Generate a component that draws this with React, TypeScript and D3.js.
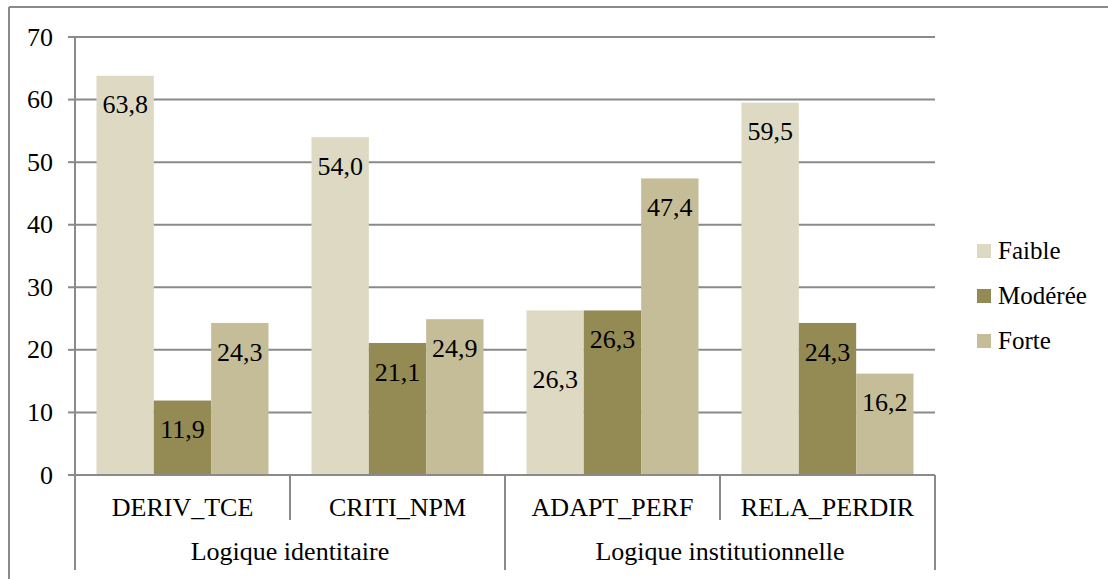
import React, { useEffect, useRef } from "react";
import * as d3 from "d3";

const categories = ["DERIV_TCE", "CRITI_NPM", "ADAPT_PERF", "RELA_PERDIR"];
const groups = [
  { label: "Logique identitaire", span: 2 },
  { label: "Logique institutionnelle", span: 2 },
];
const seriesNames = ["Faible", "Modérée", "Forte"];
const faible = [63.8, 54.0, 26.3, 59.5];
const moderee = [11.9, 21.1, 26.3, 24.3];
const forte = [24.3, 24.9, 47.4, 16.2];
const yTicks = [0, 10, 20, 30, 40, 50, 60, 70];

const seriesValues = [faible, moderee, forte];
const colors = ["#DDD9C3", "#948A54", "#C4BD97"];
// label extra vertical shift (px) for specific labels: [series][category]
const labelShift = [
  [0, 0, 40, 0],
  [0, 0, 0, 0],
  [0, 0, 0, 0],
];

const W = 1108;
const H = 579;
const left = 75;
const right = 935;
const top = 37;
const bottom = 475;
const fs = 26;
const gridColor = "#8a8a8a";
const FONT = '"Liberation Serif", "Times New Roman", serif';

function T(props: any) {
  const { children, anchor, size, ...rest } = props;
  return (
    <text {...rest} className="serif" textAnchor={anchor || "start"} fontSize={size || fs} fill="#000">
      {children}
    </text>
  );
}

export default function App() {
  const ref = useRef<SVGSVGElement>(null);
  useEffect(() => {
    if (!ref.current) return;
    d3.select(ref.current)
      .selectAll<SVGTextElement, unknown>("text")
      .each(function () {
        this.style.setProperty("font-family", FONT, "important");
      });
  }, []);

  const y = d3.scaleLinear().domain([0, 70]).range([bottom, top]);
  const x0 = d3.scaleBand<string>().domain(categories).range([left, right]).paddingInner(0).paddingOuter(0);
  const bw = x0.bandwidth();
  const inner = d3
    .scaleBand<string>()
    .domain(seriesNames)
    .range([bw * 0.1, bw * 0.9])
    .padding(0);

  return (
    <svg ref={ref} width={W} height={H} style={{ position: "absolute", left: 0, top: 0 }}>
      <style>{`text.serif { font-family: ${FONT} !important; }`}</style>
      <rect x={0} y={0} width={W} height={H} fill="#fff" />
      <line x1={9} y1={7} x2={W} y2={7} stroke={gridColor} strokeWidth={2} />
      <line x1={9} y1={7} x2={9} y2={H} stroke={gridColor} strokeWidth={2} />

      {yTicks.map((t) => (
        <g key={t}>
          {t > 0 && <line x1={left} x2={right} y1={y(t)} y2={y(t)} stroke={gridColor} strokeWidth={2} />}
          <line x1={68} x2={left} y1={y(t)} y2={y(t)} stroke={gridColor} strokeWidth={2} />
          <T x={53} y={y(t)} dy="0.33em" anchor="end">
            {t}
          </T>
        </g>
      ))}

      {seriesValues.map((vals, si) =>
        vals.map((v, ci) => {
          const bx = (x0(categories[ci]) as number) + (inner(seriesNames[si]) as number);
          return (
            <rect
              key={`b${si}-${ci}`}
              x={bx}
              y={y(v)}
              width={inner.bandwidth()}
              height={bottom - y(v)}
              fill={colors[si]}
            />
          );
        })
      )}

      <line x1={left} x2={left} y1={top} y2={570} stroke={gridColor} strokeWidth={2} />
      <line x1={left} x2={right} y1={bottom} y2={bottom} stroke={gridColor} strokeWidth={2} />
      <line x1={right} x2={right} y1={bottom} y2={570} stroke={gridColor} strokeWidth={2} />

      {categories.map((c, i) => {
        if (i === 0) return null;
        const xx = x0(c) as number;
        const isGroupEdge = i === groups[0].span;
        return (
          <line key={c} x1={xx} x2={xx} y1={bottom} y2={isGroupEdge ? 570 : 520} stroke={gridColor} strokeWidth={2} />
        );
      })}

      {seriesValues.map((vals, si) =>
        vals.map((v, ci) => {
          const bx = (x0(categories[ci]) as number) + (inner(seriesNames[si]) as number) + inner.bandwidth() / 2;
          return (
            <T key={`l${si}-${ci}`} x={bx} y={y(v) + 29 + labelShift[si][ci]} dy="0.33em" anchor="middle">
              {d3.format(".1f")(v).replace(".", ",")}
            </T>
          );
        })
      )}

      {categories.map((c) => (
        <T key={c} x={(x0(c) as number) + bw / 2} y={516} anchor="middle">
          {c}
        </T>
      ))}
      {(() => {
        let idx = 0;
        return groups.map((g) => {
          const start = x0(categories[idx]) as number;
          idx += g.span;
          const end = start + bw * g.span;
          return (
            <T key={g.label} x={(start + end) / 2} y={560} anchor="middle">
              {g.label}
            </T>
          );
        });
      })()}

      {seriesNames.map((s, i) => {
        const cy = 251 + i * 45;
        return (
          <g key={s}>
            <rect x={977} y={cy - 7} width={14} height={14} fill={colors[i]} />
            <T x={998} y={cy} dy="0.33em" size={fs - 1}>
              {s}
            </T>
          </g>
        );
      })}
    </svg>
  );
}
